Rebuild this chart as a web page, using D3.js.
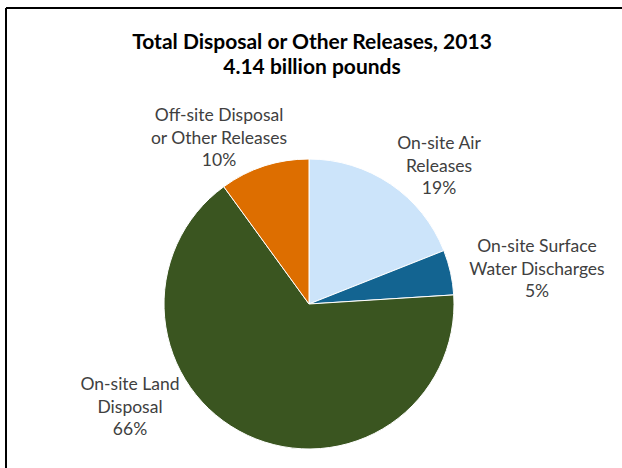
<!DOCTYPE html>
<html>
<head>
<meta charset="utf-8">
<script src="https://cdn.jsdelivr.net/npm/d3@7/dist/d3.min.js"></script>
<style>
  html, body { margin: 0; padding: 0; background: #fff; }
  svg { display: block; }
  text { font-family: Lato, "Open Sans", sans-serif; }
</style>
</head>
<body>
<svg id="chart" width="622" height="468"></svg>
<script>
const categories = ["On-site Air Releases", "On-site Surface Water Discharges", "On-site Land Disposal", "Off-site Disposal or Other Releases"];
const labelLines = [["On-site Air", "Releases"], ["On-site Surface", "Water Discharges"], ["On-site Land", "Disposal"], ["Off-site Disposal", "or Other Releases"]];
const values = [19, 5, 66, 10];
const colors = ["#cce4fa", "#136491", "#3a5520", "#dd6e00"];
const titleLines = ["Total Disposal or Other Releases, 2013", "4.14 billion pounds"];

// label anchor positions (layout only)
const labelPos = [[439, 145], [537, 248], [130, 386], [219, 117]];

const svg = d3.select("#chart");
const W = 622, H = 468;

// frame lines
svg.append("line").attr("x1", 6).attr("y1", 8).attr("x2", W).attr("y2", 8)
  .attr("stroke", "#000").attr("stroke-width", 2);
svg.append("line").attr("x1", 6).attr("y1", 8).attr("x2", 6).attr("y2", H)
  .attr("stroke", "#000").attr("stroke-width", 2);

// title
const title = svg.append("text").attr("text-anchor", "middle")
  .attr("font-weight", "bold").attr("font-size", 21).attr("fill", "#000");
titleLines.forEach((t, i) => {
  title.append("tspan").attr("x", 312).attr("y", 49 + i * 25).text(t);
});

const cx = 309, cy = 304, r = 145;
const pie = d3.pie().sort(null).value(d => d.v).startAngle(0).endAngle(2 * Math.PI);
const data = pie(values.map((v, i) => ({ v, i })));
const arc = d3.arc().innerRadius(0).outerRadius(r);

const g = svg.append("g").attr("transform", `translate(${cx},${cy})`);
g.selectAll("path").data(data).join("path")
  .attr("d", arc)
  .attr("fill", d => colors[d.data.i])
  .attr("stroke", "#fff").attr("stroke-width", 1);

// labels
const lbl = svg.append("g").attr("font-size", 17.5).attr("fill", "#404040").attr("text-anchor", "middle");
data.forEach(d => {
  const i = d.data.i;
  const [x, y] = labelPos[i];
  const t = lbl.append("text").attr("dominant-baseline", "middle");
  const lines = labelLines[i].concat([values[i] + "%"]);
  lines.forEach((s, k) => {
    t.append("tspan").attr("x", x).attr("y", y + k * 22.5).text(s);
  });
});
</script>
</body>
</html>
